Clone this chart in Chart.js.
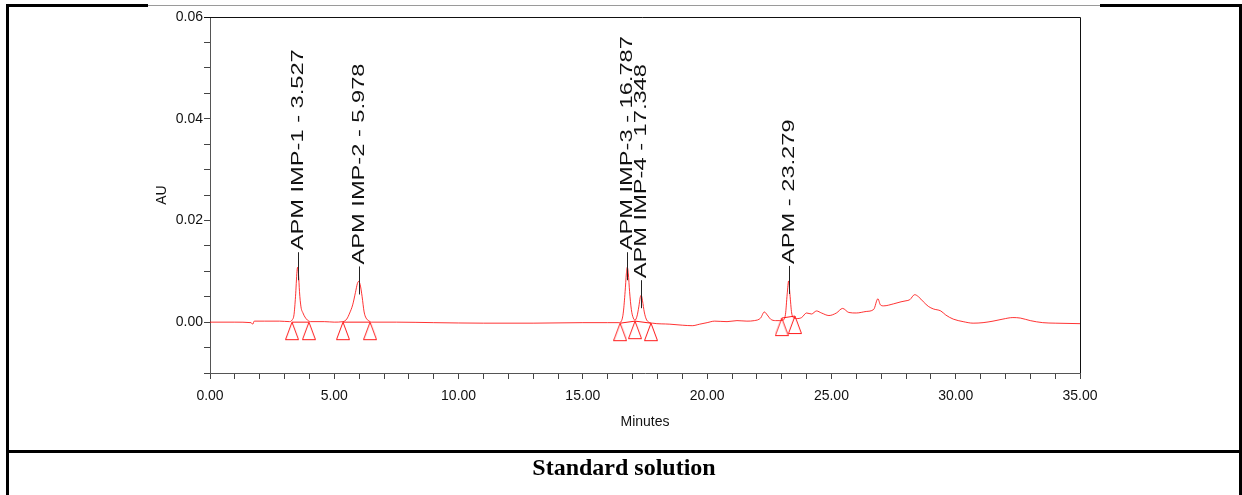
<!DOCTYPE html>
<html>
<head>
<meta charset="utf-8">
<script src="https://cdn.jsdelivr.net/npm/chart.js@4/dist/chart.umd.min.js"></script>
<style>
  html, body { margin: 0; padding: 0; background: #fff; }
  body { width: 1242px; height: 495px; position: relative; overflow: hidden; }
  #wrap { position: absolute; left: 0; top: 0; width: 1242px; height: 448px; }
  .ln { position: absolute; background: #000; z-index: 5; }
  #caption { position: absolute; left: 6px; width: 1236px; top: 452px; height: 30px;
    text-align: center; font: bold 24px "Liberation Serif", "DejaVu Serif", serif; line-height: 30px; color: #000; z-index: 5; }
</style>
</head>
<body>
<div id="wrap"><canvas id="c" width="1242" height="448"></canvas></div>
<div class="ln" style="left:6px;top:4px;width:142px;height:3px;"></div>
<div class="ln" style="left:148px;top:5px;width:952px;height:1px;background:#9a9a9a;"></div>
<div class="ln" style="left:1100px;top:4px;width:142px;height:3px;"></div>
<div class="ln" style="left:6px;top:4px;width:3px;height:491px;"></div>
<div class="ln" style="left:1239px;top:4px;width:3px;height:491px;"></div>
<div class="ln" style="left:6px;top:450px;width:1236px;height:3px;"></div>
<div id="caption">Standard solution</div>
<script>
// ---- data ----
const retentionTimes = [
  0, 1.0, 1.65, 1.72, 1.78, 2.2, 2.8, 3.2,
  3.30, 3.38, 3.44, 3.50, 3.527, 3.56, 3.60, 3.66, 3.74, 3.82, 3.92, 4.05,
  4.6, 5.0,
  5.35, 5.50, 5.62, 5.74, 5.85, 5.93, 5.978, 6.04, 6.12, 6.20, 6.28, 6.38, 6.50,
  7.5, 9.0, 11.0, 13.0, 15.0, 16.0,
  16.45, 16.55, 16.63, 16.70, 16.75, 16.787, 16.83, 16.88, 16.95, 17.03,
  17.10, 17.18, 17.25, 17.31, 17.348, 17.40, 17.47, 17.55, 17.65, 17.80,
  18.5, 19.0, 19.4, 19.7, 20.0, 20.3, 20.8, 21.2, 21.6, 21.9,
  22.15, 22.3, 22.42, 22.55, 22.75, 22.90,
  23.05, 23.15, 23.22, 23.279, 23.33, 23.40, 23.50, 23.60,
  23.8, 24.0, 24.2, 24.4, 24.6, 24.9, 25.2, 25.45, 25.7, 26.0,
  26.4, 26.7, 26.87, 26.97, 27.1, 27.5, 27.8, 28.0, 28.15, 28.35,
  28.5, 28.7, 28.9, 29.1, 29.4, 29.6, 29.9, 30.3, 30.7, 31.1,
  31.5, 31.9, 32.3, 32.6, 33.0, 33.5, 34.0, 35.0
];
const absorbance = [
  0.0000, 0.0000, -0.0001, -0.0004, 0.0002, 0.0002, 0.0002, 0.0001,
  0.0004, 0.0015, 0.0050, 0.0100, 0.0108, 0.0095, 0.0060, 0.0030, 0.0018, 0.0010, 0.0004, 0.0001,
  0.0001, 0.0000,
  0.0001, 0.0006, 0.0018, 0.0034, 0.0058, 0.0076, 0.0080, 0.0074, 0.0050, 0.0020, 0.0008, 0.0003, 0.0000,
  0.0000, -0.0001, -0.0002, -0.0002, -0.0001, -0.0001,
  -0.0001, 0.0002, 0.0020, 0.0060, 0.0095, 0.0108, 0.0095, 0.0060, 0.0025, 0.0008,
  0.0004, 0.0012, 0.0030, 0.0049, 0.0053, 0.0042, 0.0020, 0.0006, 0.0000, -0.0002,
  -0.0004, -0.0006, -0.0007, -0.0004, -0.0001, 0.0002, 0.0001, 0.0003, 0.0002, 0.0003,
  0.0008, 0.0020, 0.0014, 0.0006, 0.0003, 0.0003,
  0.0004, 0.0015, 0.0055, 0.0081, 0.0055, 0.0018, 0.0008, 0.0007,
  0.0009, 0.0018, 0.0016, 0.0022, 0.0018, 0.0013, 0.0018, 0.0027, 0.0019, 0.0018,
  0.0021, 0.0025, 0.0046, 0.0034, 0.0032, 0.0036, 0.0040, 0.0042, 0.0044, 0.0054,
  0.0050, 0.0040, 0.0031, 0.0026, 0.0022, 0.0014, 0.0006, 0.0001, -0.0002, -0.0001,
  0.0002, 0.0006, 0.0009, 0.0008, 0.0003, -0.0001, -0.0002, -0.0003
];
// integration markers (peak start / end), null separates peak groups
const markerTimes  = [3.30, 3.98, null, 5.35, 6.44, null, 16.50, 17.10, 17.74, null, 23.00, 23.53];
const markerLevels = [0.0000, 0.0000, null, 0.0000, 0.0000, null, -0.0002, 0.0002, -0.0002, null, 0.0008, 0.0012];
// peak annotations
const peakNames   = ["APM IMP-1 - 3.527", "APM IMP-2 - 5.978", "APM IMP-3 - 16.787", "APM IMP-4 - 17.348", "APM - 23.279"];
const peakTimes   = [3.527, 5.978, 16.787, 17.348, 23.279];
const peakHeights = [0.0108, 0.0080, 0.0108, 0.0053, 0.0081];
// ticks
const xTickLabels = ["0.00", "5.00", "10.00", "15.00", "20.00", "25.00", "30.00", "35.00"];
const yTickLabels = ["0.00", "0.02", "0.04", "0.06"];

// ---- build ----
const traceData = retentionTimes.map((t, i) => ({ x: t, y: absorbance[i] }));
let lastX = 0;
const markerData = markerTimes.map((t, i) => {
  if (t === null) return { x: lastX, y: null };
  lastX = t;
  return { x: t, y: markerLevels[i] };
});

// triangle marker image: apex at image centre, triangle hangs below
const tri = document.createElement('canvas');
tri.width = 14; tri.height = 38;
(function () {
  const g = tri.getContext('2d');
  g.strokeStyle = '#ff1a1a';
  g.lineWidth = 1;
  g.beginPath();
  g.moveTo(7, 19);
  g.lineTo(0.5, 36.5);
  g.lineTo(13.5, 36.5);
  g.closePath();
  g.stroke();
})();

const FONT = 'Arial, "Liberation Sans", sans-serif';

const framePlugin = {
  id: 'frame',
  afterDraw(chart) {
    const { ctx, chartArea: a } = chart;
    ctx.save();
    ctx.strokeStyle = '#111';
    ctx.lineWidth = 1;
    ctx.beginPath();
    ctx.moveTo(a.left - 6, a.top + 0.5);
    ctx.lineTo(a.right + 0.5, a.top + 0.5);
    ctx.lineTo(a.right + 0.5, a.bottom);
    ctx.stroke();
    ctx.restore();
  }
};

const peakLabelPlugin = {
  id: 'peakLabels',
  afterDatasetsDraw(chart) {
    const { ctx, scales: { x, y } } = chart;
    ctx.save();
    peakNames.forEach((name, i) => {
      const px = Math.round(x.getPixelForValue(peakTimes[i])) + 0.5;
      const py = y.getPixelForValue(peakHeights[i]);
      ctx.strokeStyle = '#222';
      ctx.lineWidth = 1;
      ctx.beginPath();
      ctx.moveTo(px, py + 13);
      ctx.lineTo(px, py - 15);
      ctx.stroke();
      ctx.save();
      ctx.translate(px, py - 17);
      ctx.rotate(-Math.PI / 2);
      ctx.scale(1.39, 1);
      ctx.font = '17px ' + FONT;
      ctx.fillStyle = '#111';
      ctx.textAlign = 'left';
      ctx.textBaseline = 'middle';
      ctx.fillText(name, 0, 0);
      ctx.restore();
    });
    ctx.restore();
  }
};

new Chart(document.getElementById('c'), {
  type: 'line',
  data: {
    datasets: [
      {
        data: traceData,
        borderColor: 'rgba(255,0,0,0.8)',
        borderWidth: 1,
        pointRadius: 0,
        cubicInterpolationMode: 'monotone',
        fill: false,
        order: 2
      },
      {
        data: markerData,
        borderColor: 'rgba(255,0,0,0.9)',
        borderWidth: 1,
        showLine: true,
        spanGaps: false,
        pointStyle: tri,
        pointRadius: 7,
        fill: false,
        order: 1
      }
    ]
  },
  options: {
    responsive: false,
    animation: false,
    events: [],
    layout: { padding: { left: 0, top: 17, right: 162, bottom: 0 } },
    plugins: { legend: { display: false }, tooltip: { enabled: false } },
    scales: {
      x: {
        type: 'linear',
        min: 0, max: 35,
        afterFit(s) { s.height = 75; },
        border: { display: true, color: '#555', width: 1 },
        grid: { display: true, drawOnChartArea: false, drawTicks: true, tickLength: 6, color: '#444' },
        ticks: {
          stepSize: 1, autoSkip: false, maxRotation: 0, padding: 9,
          color: '#111', font: { family: FONT, size: 14 },
          callback(v) {
            const k = Math.round(v / 5);
            return Math.abs(v - k * 5) < 1e-6 && xTickLabels[k] !== undefined ? xTickLabels[k] : '';
          }
        },
        title: { display: true, text: 'Minutes', color: '#111', font: { family: FONT, size: 14 },
                 padding: { top: 0, bottom: 17.6 } }
      },
      y: {
        type: 'linear',
        min: -0.01, max: 0.06,
        afterFit(s) { s.width = 210; },
        border: { display: true, color: '#555', width: 1 },
        grid: { display: true, drawOnChartArea: false, drawTicks: true, tickLength: 6, color: '#444' },
        ticks: {
          stepSize: 0.005, autoSkip: false, padding: 1,
          color: '#111', font: { family: FONT, size: 14 },
          callback(v) {
            const k = Math.round(v / 0.02);
            return Math.abs(v - k * 0.02) < 1e-7 && yTickLabels[k] !== undefined ? yTickLabels[k] : '';
          }
        },
        title: { display: true, text: 'AU', color: '#111', font: { family: FONT, size: 14 },
                 padding: { top: 153.6, bottom: 0 } }
      }
    }
  },
  plugins: [framePlugin, peakLabelPlugin]
});
</script>
</body>
</html>
